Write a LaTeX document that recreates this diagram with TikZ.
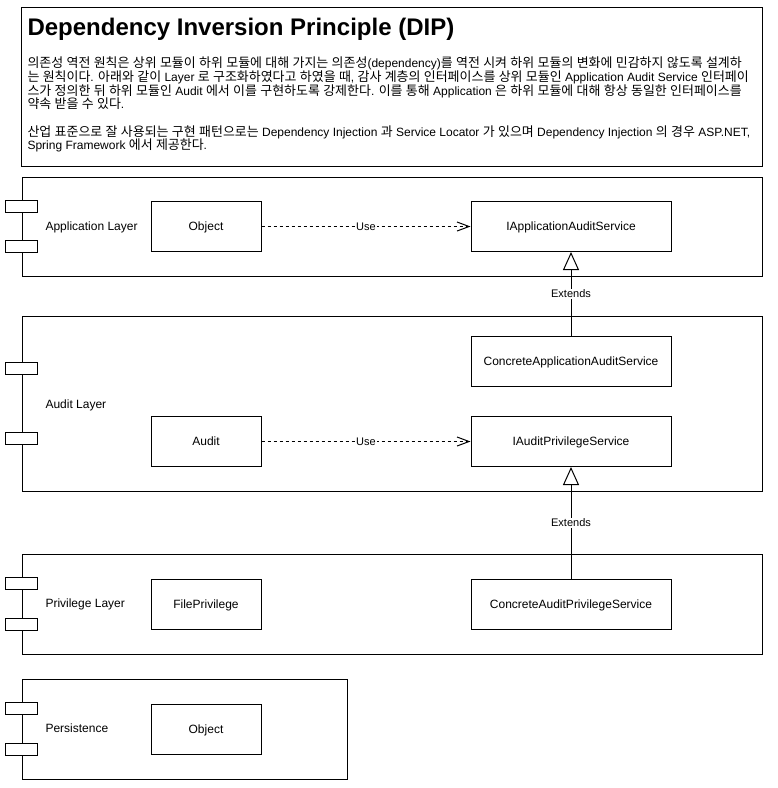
\documentclass[tikz,border=0pt]{standalone}
\usepackage{fontspec}
\setmainfont{Liberation Sans}
\newfontfamily\krfont[Scale=1.08]{Noto Sans CJK KR}
\usetikzlibrary{arrows.meta,calc}

% hangul syllables are set in the korean font
\XeTeXinterchartokenstate=1
\newXeTeXintercharclass\hangulclass
\count255="AC00
\loop
  \XeTeXcharclass\count255=\hangulclass
  \advance\count255 by 1
\ifnum\count255<"D7A4 \repeat
\XeTeXinterchartoks 0 \hangulclass = {\krfont}
\XeTeXinterchartoks 4095 \hangulclass = {\krfont}
\XeTeXinterchartoks \hangulclass 0 = {\normalfont}
\XeTeXinterchartoks \hangulclass 4095 = {\normalfont}

\tikzset{
  layer/.style={draw, fill=white, minimum height=100pt, inner sep=0pt},
  tab/.style={draw, fill=white, minimum width=32pt, minimum height=12pt, inner sep=0pt},
  cls/.style={draw, fill=white, minimum width=110pt, minimum height=50pt, inner sep=0pt,
    text height=8.6pt, text depth=0pt, font=\fontsize{12}{14}\selectfont},
  wide/.style={cls, minimum width=200pt},
  lbl/.style={anchor=west, inner sep=0pt, text height=8.6pt, text depth=0pt,
    font=\fontsize{12}{14}\selectfont},
  use/.style={dash pattern=on 3pt off 3pt, -{Straight Barb[length=12pt,width=9pt]}},
  ext/.style={-{Triangle[open,length=18pt,width=16pt]}},
  tag/.style={fill=white, inner sep=1pt, text height=7.9pt, text depth=0pt,
    font=\fontsize{11}{13}\selectfont}
}

\begin{document}
\begin{tikzpicture}[x=1pt, y=-1pt, line width=1pt]
    \useasboundingbox (0,0) rectangle (778,788);

    % description
    \node[draw, minimum width=741pt, minimum height=159pt, inner sep=0pt, anchor=north west] (titlebox) at (21,7) {};
    \node[anchor=base west, inner sep=0pt, font=\bfseries\fontsize{24}{28}\selectfont] (title) at (27,35) {Dependency Inversion Principle (DIP)};
    \node[anchor=north west, inner sep=0pt, align=left, font=\fontsize{12}{13.7}\selectfont] (body) at (27,56.5) {%
        의존성 역전 원칙은 상위 모듈이 하위 모듈에 대해 가지는 의존성(dependency)를 역전 시켜 하위 모듈의 변화에 민감하지 않도록 설계하\\
        는 원칙이다. 아래와 같이 Layer 로 구조화하였다고 하였을 때, 감사 계층의 인터페이스를 상위 모듈인 Application Audit Service 인터페이\\
        스가 정의한 뒤 하위 모듈인 Audit 에서 이를 구현하도록 강제한다. 이를 통해 Application 은 하위 모듈에 대해 항상 동일한 인터페이스를\\
        약속 받을 수 있다.\\[13.7pt]
        산업 표준으로 잘 사용되는 구현 패턴으로는 Dependency Injection 과 Service Locator 가 있으며 Dependency Injection 의 경우 ASP.NET,\\
        Spring Framework 에서 제공한다.};

    % layers
    \node[layer, minimum width=740pt, minimum height=99pt] (applayer) at (392,226.5) {};
    \node[layer, minimum width=740pt, minimum height=175pt] (auditlayer) at (392,403.5) {};
    \node[layer, minimum width=740pt, minimum height=100pt] (privlayer) at (392,604) {};
    \node[layer, minimum width=325pt, minimum height=100pt] (perslayer) at (184.5,729) {};

    \foreach \l in {applayer,auditlayer,privlayer,perslayer}{
        \node[tab] (\l-a) at ($(\l.north west)!0.3!(\l.south west)$) {};
        \node[tab] (\l-b) at ($(\l.north west)!0.7!(\l.south west)$) {};
    }

    \node[lbl] (applabel) at (45,226.5) {Application Layer};
    \node[lbl] (auditlabel) at (45,404) {Audit Layer};
    \node[lbl] (privlabel) at (45,603.5) {Privilege Layer};
    \node[lbl] (perslabel) at (45,728.5) {Persistence};

    % classes
    \node[cls] (object) at (206,226.5) {Object};
    \node[wide] (iappservice) at (571,226.5) {IApplicationAuditService};
    \node[wide] (concappservice) at (571,361) {ConcreteApplicationAuditService};
    \node[cls] (audit) at (206,441.5) {Audit};
    \node[wide] (iprivservice) at (571,441.5) {IAuditPrivilegeService};
    \node[cls] (fileprivilege) at (206,604) {FilePrivilege};
    \node[wide] (concprivservice) at (571,604) {ConcreteAuditPrivilegeService};
    \node[cls] (persobject) at (206,729) {Object};

    % relations
    \draw[use] (object) -- node[tag] (use1) {Use} (iappservice);
    \draw[ext] (concappservice) -- node[tag] (ext1) {Extends} (iappservice);
    \draw[use] (audit) -- node[tag] (use2) {Use} (iprivservice);
    \draw[ext] (concprivservice) -- node[tag] (ext2) {Extends} (iprivservice);

\end{tikzpicture}
\end{document}
